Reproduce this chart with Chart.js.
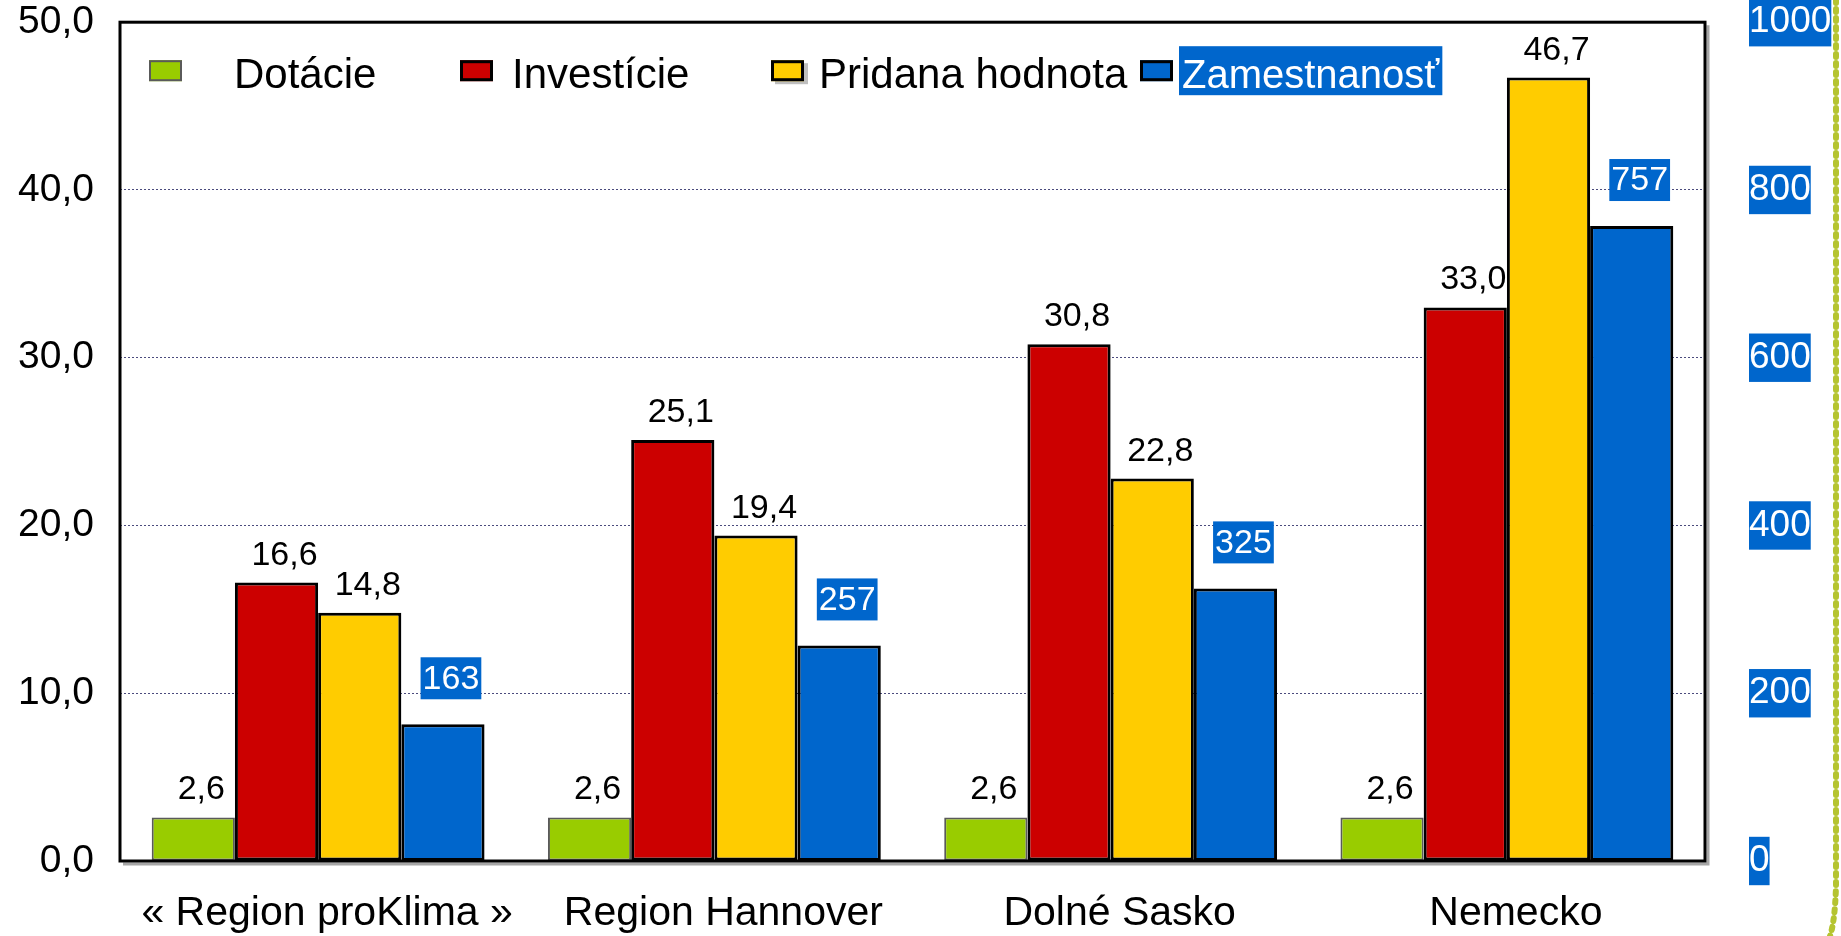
<!DOCTYPE html>
<html>
<head>
<meta charset="utf-8">
<title>Dotácie a efekty</title>
<script src="https://cdn.jsdelivr.net/npm/chart.js@4.4.2/dist/chart.umd.min.js"></script>
<style>
  html, body { margin: 0; padding: 0; background: #fff; }
  #wrap { width: 1841px; height: 936px; position: relative; }
</style>
</head>
<body>
<div id="wrap"><canvas id="chart"></canvas></div>
<script>
// ---------- DATA ----------
const categories   = ["« Region proKlima »", "Region Hannover", "Dolné Sasko", "Nemecko"];
const seriesNames  = ["Dotácie", "Investície", "Pridana hodnota", "Zamestnanosť"];
const dotacie      = [2.6, 2.6, 2.6, 2.6];
const investicie   = [16.6, 25.1, 30.8, 33.0];
const pridana      = [14.8, 19.4, 22.8, 46.7];
const zamestnanost = [163, 257, 325, 757];
const leftTicks    = [0, 10, 20, 30, 40, 50];
const rightTicks   = [0, 200, 400, 600, 800, 1000];

// ---------- STYLE ----------
const FONT  = "'Liberation Sans', Arial, sans-serif";
const GREEN = "#99cc00", RED = "#cc0000", YELLOW = "#ffcc00", BLUE = "#0066cc";

const fmt1 = v => Number(v).toFixed(1).replace(".", ",");

// ================================================================
//   PLOT FRAME (black box with grey shadow)
// ================================================================
const framePlugin = {
  id: "frame",
  afterDatasetsDraw(chart) {
    const { ctx, chartArea: a } = chart;
    ctx.save();
    ctx.lineWidth = 3;
    ctx.strokeStyle = "#a6a6a6";
    ctx.beginPath();
    ctx.moveTo(a.left + 3, a.bottom + 3);
    ctx.lineTo(a.right + 3, a.bottom + 3);
    ctx.lineTo(a.right + 3, a.top + 3);
    ctx.stroke();
    ctx.strokeStyle = "#000";
    ctx.strokeRect(a.left, a.top, a.right - a.left, a.bottom - a.top);
    ctx.restore();
  }
};

// ================================================================
//   VALUE LABELS ABOVE BARS
// ================================================================
const labelPlugin = {
  id: "valueLabels",
  afterDatasetsDraw(chart) {
    const ctx = chart.ctx;
    ctx.save();
    ctx.font = `34px ${FONT}`;
    ctx.textAlign = "center";
    chart.data.datasets.forEach((ds, i) => {
      chart.getDatasetMeta(i).data.forEach((bar, j) => {
        const v = ds.data[j];
        const x = bar.x + 8;
        if (ds.yAxisID === "y2") {
          const txt = String(v);
          const w = ctx.measureText(txt).width + 4;
          const cy = bar.y - 46;
          ctx.fillStyle = BLUE;
          ctx.fillRect(x - w / 2, cy - 21, w, 42);
          ctx.fillStyle = "#fff";
          ctx.textBaseline = "middle";
          ctx.fillText(txt, x, cy + 1);
        } else {
          ctx.fillStyle = "#000";
          ctx.textBaseline = "alphabetic";
          ctx.fillText(fmt1(v), x, bar.y - 18);
        }
      });
    });
    ctx.restore();
  }
};

// ================================================================
//   LEGEND INSIDE THE PLOT AREA
// ================================================================
const legendSlots = [
  { sq: 29,   tx: 114, size: 42 },
  { sq: 340,  tx: 392, size: 42 },
  { sq: 651,  tx: 699, size: 42 },
  { sq: 1020, tx: 1062, size: 40 }
];
const legendPlugin = {
  id: "innerLegend",
  afterDraw(chart) {
    const { ctx, chartArea: a } = chart;
    ctx.save();
    ctx.textAlign = "left";
    ctx.textBaseline = "alphabetic";
    chart.data.datasets.forEach((ds, i) => {
      const slot = legendSlots[i];
      const sx = a.left + slot.sq, sy = a.top + 38;
      if (i === 2) { ctx.fillStyle = "#bfbfbf"; ctx.fillRect(sx + 4, sy + 3, 33, 21); }
      ctx.fillStyle = ds.backgroundColor;
      ctx.fillRect(sx, sy, 33, 21);
      ctx.lineWidth = ds.borderWidth;
      ctx.strokeStyle = ds.borderColor;
      ctx.strokeRect(sx + ds.borderWidth / 2, sy + ds.borderWidth / 2, 33 - ds.borderWidth, 21 - ds.borderWidth);

      ctx.font = `${slot.size}px ${FONT}`;
      const tx = a.left + slot.tx, ty = a.top + 66;
      if (ds.yAxisID === "y2") {
        const w = ctx.measureText(ds.label).width;
        ctx.fillStyle = BLUE;
        ctx.fillRect(tx - 3, a.top + 24, w + 6, 49);
        ctx.fillStyle = "#fff";
      } else {
        ctx.fillStyle = "#000";
      }
      ctx.fillText(ds.label, tx, ty);
    });
    ctx.restore();
  }
};

// ================================================================
//   DECORATIVE GREEN SLIDE EDGE
// ================================================================
const decoPlugin = {
  id: "deco",
  afterDraw(chart) {
    const { ctx, width: W, height: H } = chart;
    ctx.save();
    ctx.strokeStyle = "#b5c430";
    ctx.lineWidth = 6;
    ctx.lineCap = "round";
    ctx.setLineDash([3, 6]);
    ctx.beginPath();
    ctx.moveTo(W - 5, 0);
    ctx.lineTo(W - 5, H - 50);
    ctx.quadraticCurveTo(W - 6, H - 15, W - 11, H);
    ctx.stroke();
    ctx.restore();
  }
};

// ================================================================
//   CHART
// ================================================================
new Chart(document.getElementById("chart"), {
  type: "bar",
  data: {
    labels: categories,
    datasets: [
      { label: seriesNames[0], data: dotacie,      backgroundColor: GREEN,  borderColor: "#5a5a5a", borderWidth: 2, yAxisID: "y" },
      { label: seriesNames[1], data: investicie,   backgroundColor: RED,    borderColor: "#000",    borderWidth: 3, yAxisID: "y" },
      { label: seriesNames[2], data: pridana,      backgroundColor: YELLOW, borderColor: "#000",    borderWidth: 3, yAxisID: "y" },
      { label: seriesNames[3], data: zamestnanost, backgroundColor: BLUE,   borderColor: "#000",    borderWidth: 3, yAxisID: "y2" }
    ]
  },
  options: {
    responsive: true,
    maintainAspectRatio: false,
    animation: false,
    layout: { padding: { top: 22, left: 0, right: 0, bottom: 0 } },
    datasets: { bar: { categoryPercentage: 0.84, barPercentage: 1.0, borderSkipped: false } },
    plugins: { legend: { display: false }, tooltip: { enabled: false } },
    scales: {
      x: {
        grid: { display: false, drawTicks: true, tickLength: 28 },
        border: { display: false },
        ticks: { color: "#000", font: { family: FONT, size: 41 }, padding: 0, labelOffset: 9, maxRotation: 0, autoSkip: false },
        afterFit: s => { s.height = 75; }
      },
      y: {
        position: "left",
        min: leftTicks[0], max: leftTicks[leftTicks.length - 1],
        afterBuildTicks: s => { s.ticks = leftTicks.map(v => ({ value: v })); },
        ticks: { color: "#000", font: { family: FONT, size: 39, lineHeight: 1 }, padding: 0, callback: v => fmt1(v) },
        grid: { color: "#4b4b7d", lineWidth: 1, drawTicks: true, tickLength: 26, tickColor: "rgba(0,0,0,0)" },
        border: { display: false, dash: [2, 2] },
        afterFit: s => { s.width = 120; }
      },
      y2: {
        position: "right",
        min: rightTicks[0], max: rightTicks[rightTicks.length - 1],
        afterBuildTicks: s => { s.ticks = rightTicks.map(v => ({ value: v })); },
        ticks: {
          color: "#fff", font: { family: FONT, size: 37 }, padding: 0,
          callback: v => String(v),
          showLabelBackdrop: true, backdropColor: BLUE, backdropPadding: { x: 0, y: 2 }
        },
        grid: { display: false, drawTicks: true, tickLength: 44 },
        border: { display: false },
        afterFit: s => { s.width = 136; }
      }
    }
  },
  plugins: [framePlugin, labelPlugin, legendPlugin, decoPlugin]
});
</script>
</body>
</html>
